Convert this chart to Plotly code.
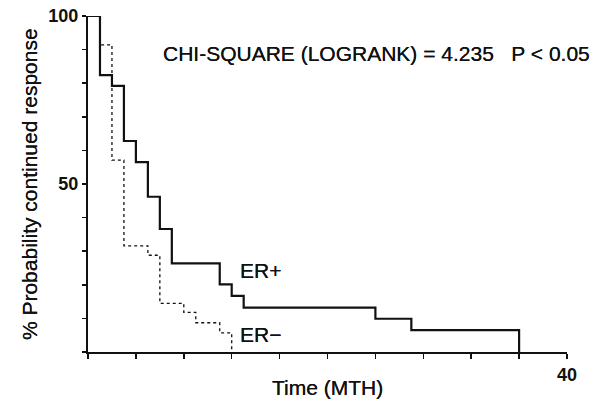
import plotly.graph_objects as go

# Data
er_pos_time = [0, 1, 2, 3, 4, 5, 6, 7, 11, 12, 13, 24, 27, 36]
er_pos_surv = [100, 82.4, 79.2, 62.8, 56.5, 46.2, 36.6, 26.4, 20.1, 16.7, 13.2, 9.9, 6.5, 0]

er_neg_time = [0, 1, 2, 3, 5, 6, 8, 9, 11, 12]
er_neg_surv = [100, 91.4, 57.1, 31.6, 28.8, 14.5, 11.8, 8.7, 5.7, 0]

x_tickvals = [0, 4, 8, 12, 16, 20, 24, 28, 32, 36, 40]
x_ticktext = ["", "", "", "", "", "", "", "", "", "", "40"]
y_tickvals = [0, 10, 20, 30, 40, 50, 60, 70, 80, 90, 100]
y_ticktext = ["", "", "", "", "", "50", "", "", "", "", "100"]

INK = "#111111"
FONT = "Liberation Sans, Arial, sans-serif"
HEAVY = "0 0 0.5px #111111"

fig = go.Figure()
fig.add_trace(go.Scatter(x=er_neg_time, y=er_neg_surv, mode="lines",
                         line=dict(shape="hv", color=INK, width=1.3, dash="dot"),
                         name="ER-", showlegend=False, hoverinfo="skip"))
fig.add_trace(go.Scatter(x=er_pos_time, y=er_pos_surv, mode="lines",
                         line=dict(shape="hv", color=INK, width=2.2),
                         name="ER+", showlegend=False, hoverinfo="skip"))

fig.update_layout(
    width=611, height=401,
    margin=dict(l=88, r=44, t=16, b=49, autoexpand=False),
    paper_bgcolor="white", plot_bgcolor="white",
    font=dict(family=FONT, color=INK),
    xaxis=dict(range=[0, 40], showgrid=False, zeroline=False, automargin=False,
               showline=True, linecolor=INK, linewidth=2,
               ticks="outside", ticklen=5, tickwidth=1.5, tickcolor=INK,
               tickvals=x_tickvals, ticktext=x_ticktext,
               tickfont=dict(size=18, family=FONT, color=INK, weight="bold")),
    yaxis=dict(range=[0, 100], showgrid=False, zeroline=False, automargin=False,
               showline=True, linecolor=INK, linewidth=2,
               ticks="outside", ticklen=4, tickwidth=1.5, tickcolor=INK,
               tickvals=y_tickvals, ticktext=y_ticktext,
               tickfont=dict(size=18, family=FONT, color=INK, weight="bold")),
)

# Axis titles
fig.add_annotation(x=0.501, y=-0.107, xref="paper", yref="paper",
                   text="Time (MTH)", showarrow=False,
                   xanchor="center", yanchor="middle",
                   font=dict(size=21, family=FONT, color=INK, shadow=HEAVY))
fig.add_annotation(x=-0.123, y=0.5, xref="paper", yref="paper",
                   text="% Probability continued response", showarrow=False,
                   textangle=-90, xanchor="center", yanchor="middle",
                   font=dict(size=21, family=FONT, color=INK, shadow=HEAVY))

fig.add_annotation(x=6.1, y=88.7, xref="x", yref="y",
                   text="CHI-SQUARE (LOGRANK) = 4.235&nbsp;&nbsp;&nbsp;P &lt; 0.05",
                   showarrow=False, xanchor="left", yanchor="middle",
                   font=dict(size=21, family=FONT, color=INK, shadow=HEAVY))
fig.add_annotation(x=12.5, y=24.4, xref="x", yref="y", text="ER+",
                   showarrow=False, xanchor="left", yanchor="middle",
                   font=dict(size=21, family=FONT, color=INK, shadow=HEAVY))
fig.add_annotation(x=12.5, y=5.1, xref="x", yref="y", text="ER−",
                   showarrow=False, xanchor="left", yanchor="middle",
                   font=dict(size=21, family=FONT, color=INK, shadow=HEAVY))

fig.write_html("out.html",
               config={"displayModeBar": False, "staticPlot": True},
               post_script="document.body.style.margin='0px';document.body.style.padding='0px';")
